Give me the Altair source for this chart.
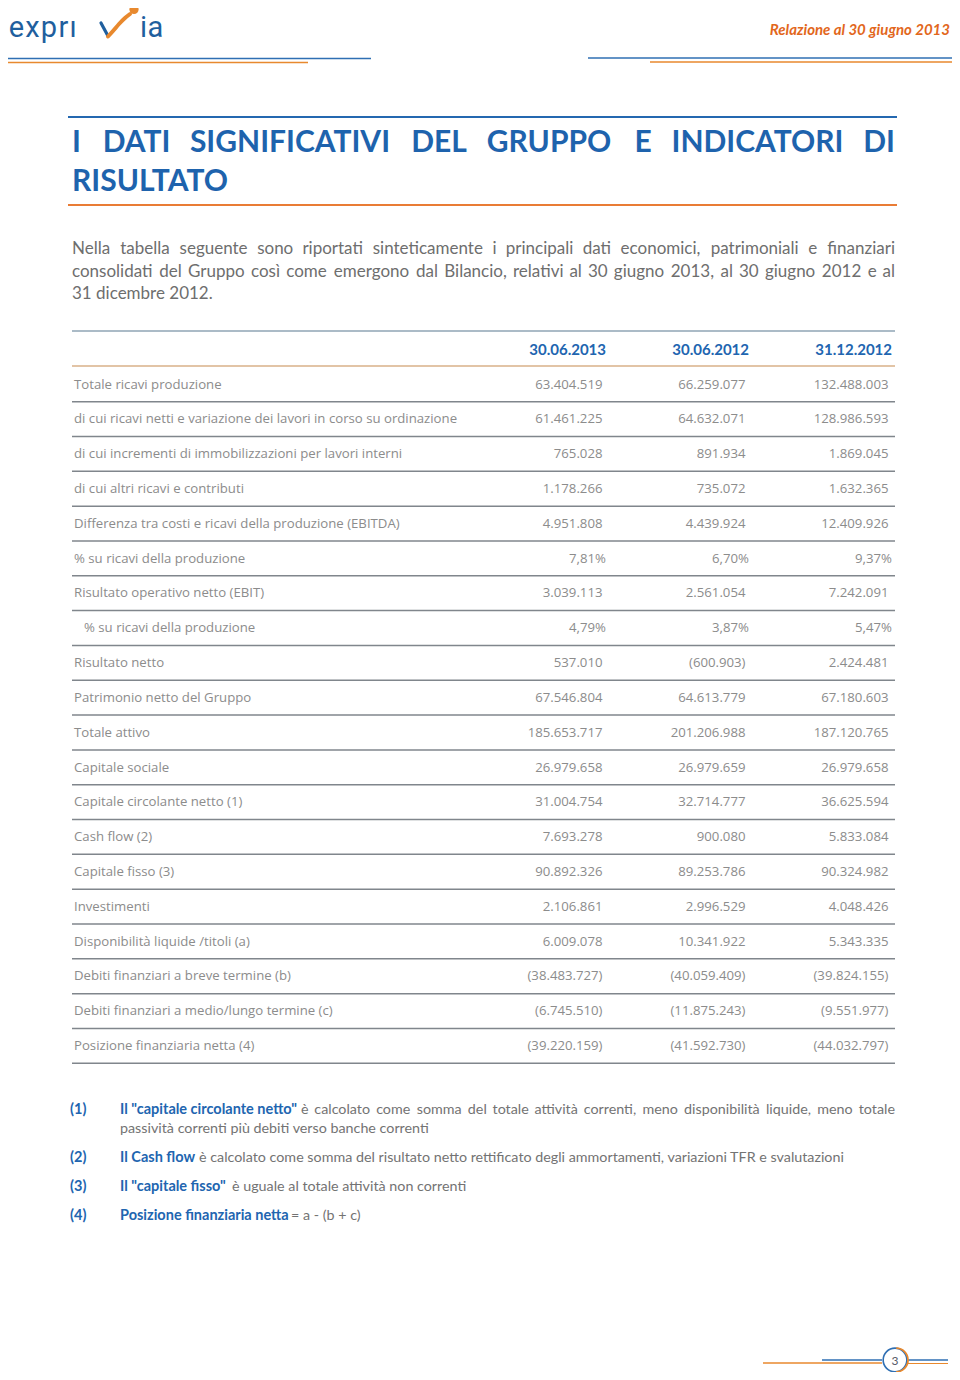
import altair as alt
import pandas as pd

# ---------------- data ----------------
columns = ["30.06.2013", "30.06.2012", "31.12.2012"]

labels = [
    "Totale ricavi produzione",
    "di cui ricavi netti e variazione dei lavori in corso su ordinazione",
    "di cui incrementi di immobilizzazioni per lavori interni",
    "di cui altri ricavi e contributi",
    "Differenza tra costi e ricavi della produzione (EBITDA)",
    "% su ricavi della produzione",
    "Risultato operativo netto (EBIT)",
    "% su ricavi della produzione",
    "Risultato netto",
    "Patrimonio netto del Gruppo",
    "Totale attivo",
    "Capitale sociale",
    "Capitale circolante netto (1)",
    "Cash flow (2)",
    "Capitale fisso (3)",
    "Investimenti",
    "Disponibilità liquide /titoli (a)",
    "Debiti finanziari a breve termine (b)",
    "Debiti finanziari a medio/lungo termine (c)",
    "Posizione finanziaria netta (4)",
]
v_2013 = [63404519, 61461225, 765028, 1178266, 4951808, 7.81, 3039113, 4.79,
          537010, 67546804, 185653717, 26979658, 31004754, 7693278, 90892326,
          2106861, 6009078, -38483727, -6745510, -39220159]
v_2012 = [66259077, 64632071, 891934, 735072, 4439924, 6.70, 2561054, 3.87,
          -600903, 64613779, 201206988, 26979659, 32714777, 900080, 89253786,
          2996529, 10341922, -40059409, -11875243, -41592730]
v_dec2012 = [132488003, 128986593, 1869045, 1632365, 12409926, 9.37, 7242091, 5.47,
             2424481, 67180603, 187120765, 26979658, 36625594, 5833084, 90324982,
             4048426, 5343335, -39824155, -9551977, -44032797]
percent_rows = [5, 7]
indented_rows = [7]

title_words = ["I", "DATI", "SIGNIFICATIVI", "DEL", "GRUPPO", "E", "INDICATORI", "DI"]
title_line2 = "RISULTATO"
paragraph = [
    "Nella tabella seguente sono riportati sinteticamente i principali dati economici, patrimoniali e finanziari",
    "consolidati del Gruppo così come emergono dal Bilancio, relativi al 30 giugno 2013, al 30 giugno 2012 e al",
    "31 dicembre 2012.",
]
note_nums = ["(1)", "(2)", "(3)", "(4)"]
note_bold = ['Il "capitale circolante netto"', "Il Cash flow", 'Il "capitale fisso"', "Posizione finanziaria netta"]
note_text = [
    "è calcolato come somma del totale attività correnti, meno disponibilità liquide, meno totale",
    "è calcolato come somma del risultato netto rettificato degli ammortamenti, variazioni TFR e svalutazioni",
    "è uguale al totale attività non correnti",
    "= a - (b + c)",
]
note_cont = "passività correnti più debiti verso banche correnti"
header_right = "Relazione al 30 giugno 2013"
logo_left = ["e", "x", "p", "r", "ı"]
logo_right = ["i", "a"]
page_number = "3"

# ---------------- styles / layout ----------------
BLUE = "#1e63ad"
TBLUE = "#2165b0"
ORANGE = "#e8892e"
ORANGE_TXT = "#e2671c"
GRAY_TXT = "#8c8c8c"
PARA_TXT = "#6e6e6e"
NOTE_TXT = "#737373"
RULE_GRAY = "#80868c"
LINE_BLUE = "#2f6fb3"
LOGO_BLUE = "#1f5f9e"
FONT = "Lato"
TFONT = "Open Sans"

X = alt.Scale(domain=[8, 952])
Y = alt.Scale(domain=[1372, 8])

# rough Lato advance widths (em) used only to justify lines
W = {" ": .193, ".": .22, ",": .22, "%": .8, "(": .3, ")": .3, '"': .35, "-": .33,
     "=": .58, "+": .58, "/": .35}
for ch, w in zip("abcdefghijklmnopqrstuvwxyz",
                 [.49, .56, .46, .56, .52, .32, .50, .55, .23, .23, .49, .23, .83,
                  .55, .55, .55, .55, .36, .42, .34, .55, .49, .75, .48, .49, .45]):
    W[ch] = w
for ch, base in zip("àèìòù", "aeiou"):
    W[ch] = W[base]
for ch, w in zip("ABCDEFGHILNOPRSTV", [.67, .63, .66, .73, .56, .53, .71, .74, .29,
                                       .49, .74, .78, .59, .61, .52, .58, .66]):
    W[ch] = w
for d in "0123456789":
    W[d] = .58


def raw_w(s):
    return sum(W.get(ch, .5) for ch in s)


# calibrate on the rendered natural width of paragraph line 1 at 16.5px (736px)
CAL = 736 / (16.5 * raw_w(paragraph[0]))


def justify(line, x0, x1, size, y):
    words = line.split(" ")
    ws = [CAL * size * raw_w(w) for w in words]
    gap = (x1 - x0 - sum(ws)) / (len(words) - 1)
    left, center, right = [], [], []
    x = x0
    for i, (w, wd) in enumerate(zip(words, ws)):
        if i == 0:
            left.append((x0, y, w))
        elif i == len(words) - 1:
            right.append((x1, y, w))
        else:
            center.append((x + wd / 2, y, w))
        x += wd + gap
    return left, center, right


def fmt(v, pct):
    if pct:
        return f"{v:.2f}".replace(".", ",") + "%"
    s = f"{abs(int(v)):,}".replace(",", ".")
    return f"({s})" if v < 0 else s


def text_layer(rows, **mark):
    df = pd.DataFrame(rows, columns=["x", "y", "t"])
    return alt.Chart(df).mark_text(font=mark.pop("font", FONT), **mark).encode(
        x=alt.X("x:Q", scale=X, axis=None),
        y=alt.Y("y:Q", scale=Y, axis=None),
        text="t:N",
    )


def rule_layer(rows, color, width):
    df = pd.DataFrame(rows, columns=["x", "x2", "y"])
    return alt.Chart(df).mark_rule(color=color, strokeWidth=width).encode(
        x=alt.X("x:Q", scale=X, axis=None),
        x2="x2:Q",
        y=alt.Y("y:Q", scale=Y, axis=None),
    )


def seg_layer(rows, color, width):
    df = pd.DataFrame(rows, columns=["x", "y", "x2", "y2"])
    return alt.Chart(df).mark_rule(color=color, strokeWidth=width, strokeCap="round").encode(
        x=alt.X("x:Q", scale=X, axis=None), y=alt.Y("y:Q", scale=Y, axis=None),
        x2="x2:Q", y2="y2:Q")


def justified_layers(rows3, **mark):
    out = []
    for rows, al in zip(rows3, ["left", "center", "right"]):
        if rows:
            out.append(text_layer(rows, align=al, **mark))
    return out


layers = []

# ---- page header ----
layers.append(rule_layer([(8, 371, 58.5), (588, 952, 58)], LINE_BLUE, 1.6))
layers.append(rule_layer([(8, 308, 62.5), (650, 952, 62)], ORANGE, 1.6))
logo_cx = [16.5, 32.5, 49, 63.5, 73]
lstyle = dict(align="center", baseline="alphabetic", fontSize=29, color=LOGO_BLUE, font="Roboto")
layers.append(text_layer(list(zip(logo_cx, [37] * 5, logo_left)), **lstyle))
layers.append(text_layer(list(zip([143.5, 155.5], [37, 37], logo_right)), **lstyle))
layers.append(seg_layer([(101, 23, 108, 36)], LOGO_BLUE, 3.2))
swoosh = pd.DataFrame({"x": [108, 113, 119, 125, 130], "y": [36.5, 31, 24, 18, 14], "o": range(5)})
layers.append(alt.Chart(swoosh).mark_line(color=ORANGE, strokeWidth=4, strokeCap="round",
                                          interpolate="monotone").encode(
    x=alt.X("x:Q", scale=X, axis=None), y=alt.Y("y:Q", scale=Y, axis=None), order="o:Q"))
dot = pd.DataFrame({"x": [134], "y": [9.5]})
layers.append(alt.Chart(dot).mark_circle(size=85, color=ORANGE, opacity=1).encode(
    x=alt.X("x:Q", scale=X, axis=None), y=alt.Y("y:Q", scale=Y, axis=None)))
layers.append(text_layer([(950, 35, header_right)], align="right", baseline="alphabetic",
                         fontSize=15, fontWeight="bold", fontStyle="italic", color=ORANGE_TXT))

# ---- title ----
layers.append(rule_layer([(68, 897, 117)], "#2468b0", 2))
layers.append(rule_layer([(68, 897, 205)], "#e97c35", 2))
title_centers = [75, 136.5, 290, 439, 549, 643, 757.5, 880.5]
trows = [(c, 152, w) for c, w in zip(title_centers, title_words)]
tstyle = dict(baseline="alphabetic", fontSize=30, fontWeight="bold", color=BLUE)
layers.append(text_layer([(72, 152, title_words[0])], align="left", **tstyle))
layers.append(text_layer(trows[1:-1], align="center", **tstyle))
layers.append(text_layer([(895, 152, title_words[-1])], align="right", **tstyle))
layers.append(text_layer([(72, 191, title_line2)], align="left", **tstyle))

# ---- paragraph ----
para_y = [254, 276.5, 299]
pstyle = dict(baseline="alphabetic", fontSize=17, color=PARA_TXT)
for line, y in zip(paragraph[:2], para_y[:2]):
    layers += justified_layers(justify(line, 72, 895, 17, y), **pstyle)
layers.append(text_layer([(72, para_y[2], paragraph[2])], align="left", **pstyle))

# ---- table ----
layers.append(rule_layer([(72, 895, 331)], "#8fa4b4", 1.6))
layers.append(rule_layer([(72, 895, 366)], "#d9b089", 1.6))
col_right = [606, 749, 892]
layers.append(text_layer([(r, 350, c) for r, c in zip(col_right, columns)], align="right",
                         baseline="middle", fontSize=15, fontWeight="bold", color=TBLUE))

row_y = [384.5 + 34.82 * i for i in range(len(labels))]
lab_rows = [(84 if i in indented_rows else 74, row_y[i], labels[i]) for i in range(len(labels))]
layers.append(text_layer(lab_rows, align="left", baseline="middle", fontSize=13.2,
                         color=GRAY_TXT, font=TFONT))

val_rows = []
for i in range(len(labels)):
    pct = i in percent_rows
    for ci, series in enumerate([v_2013, v_2012, v_dec2012]):
        xr = col_right[ci] - (0 if pct else 3.5)
        val_rows.append((xr, row_y[i], fmt(series[i], pct)))
layers.append(text_layer(val_rows, align="right", baseline="middle", fontSize=13.2,
                         color=GRAY_TXT, font=TFONT))

layers.append(rule_layer([(72, 895, 401.7 + 34.82 * i) for i in range(len(labels))], RULE_GRAY, 1.5))

# ---- footnotes ----
note_y = [1110, 1158, 1187, 1216]
note_x = [301, 199, 232, 291]
bstyle = dict(baseline="middle", fontSize=14.5, fontWeight="bold", color=TBLUE)
layers.append(text_layer([(70, y, n) for y, n in zip(note_y, note_nums)], align="left", **bstyle))
layers.append(text_layer([(120, y, b) for y, b in zip(note_y, note_bold)], align="left", **bstyle))
nstyle = dict(baseline="middle", fontSize=14.3, color=NOTE_TXT)
layers += justified_layers(justify(note_text[0], note_x[0], 895, 14.3, note_y[0]), **nstyle)
layers.append(text_layer([(x, y, t) for x, y, t in zip(note_x[1:], note_y[1:], note_text[1:])]
                         + [(120, 1129, note_cont)], align="left", **nstyle))

# ---- page number ornament ----
layers.append(rule_layer([(763, 882, 1363)], ORANGE, 1.5))
layers.append(rule_layer([(822, 882, 1360), (908, 948, 1360)], LINE_BLUE, 1.5))
layers.append(rule_layer([(908, 948, 1363.5)], ORANGE, 1.2))
circ = pd.DataFrame({"x": [895], "y": [1360]})
layers.append(alt.Chart(circ).mark_point(shape="circle", size=560, fill="white", filled=True,
                                         stroke=LINE_BLUE, strokeWidth=1.6, opacity=1).encode(
    x=alt.X("x:Q", scale=X, axis=None), y=alt.Y("y:Q", scale=Y, axis=None)))
layers.append(alt.Chart(circ).mark_point(shape="M 0.1 -1 A 1 1 0 0 1 0.1 1", size=560, filled=False,
                                         stroke=ORANGE, strokeWidth=1.8, opacity=1).encode(
    x=alt.X("x:Q", scale=X, axis=None), y=alt.Y("y:Q", scale=Y, axis=None)))
layers.append(text_layer([(895, 1360.5, page_number)], align="center", baseline="middle",
                         fontSize=12, color="#555a66"))

chart = alt.layer(*layers).properties(
    width=944, height=1364, padding=0,
    autosize=alt.AutoSizeParams(type="none"),
).configure(background="white").configure_view(stroke=None, strokeWidth=0)

chart.save("out.html", embed_options={"renderer": "svg", "actions": False})
